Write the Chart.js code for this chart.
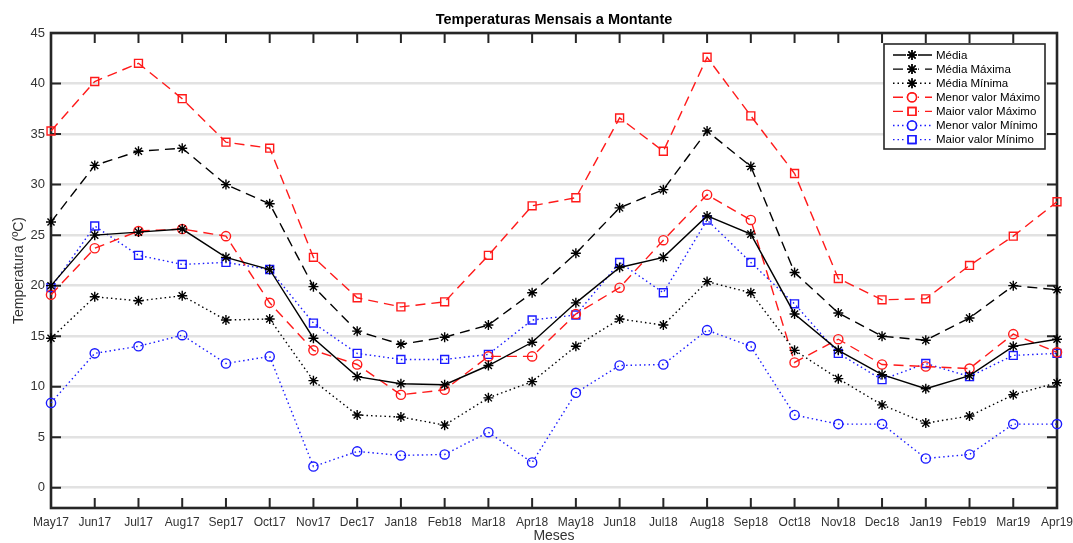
<!DOCTYPE html>
<html>
<head>
<meta charset="utf-8">
<script src="https://cdn.jsdelivr.net/npm/chart.js@4/dist/chart.umd.min.js"></script>
<style>
  html, body { margin: 0; padding: 0; background: #fff; }
  #wrap { width: 1073px; height: 543px; }
</style>
</head>
<body>
<div id="wrap"><canvas id="c" width="1073" height="543"></canvas></div>
<script>
// Months on the horizontal axis
const months = ['May17','Jun17','Jul17','Aug17','Sep17','Oct17','Nov17','Dec17','Jan18','Feb18','Mar18','Apr18',
                'May18','Jun18','Jul18','Aug18','Sep18','Oct18','Nov18','Dec18','Jan19','Feb19','Mar19','Apr19'];
// Temperature tick values (ºC)
const yTickValues = [0, 5, 10, 15, 20, 25, 30, 35, 40, 45];

// Monthly temperature series (ºC)
const media    = [20.0, 25.0, 25.3, 25.6, 22.8, 21.6, 14.8, 11.0, 10.3, 10.2, 12.1, 14.4, 18.3, 21.8, 22.8, 26.9, 25.1, 17.2, 13.6, 11.2, 9.8, 11.1, 14.0, 14.7];
const mediaMax = [26.3, 31.9, 33.3, 33.6, 30.0, 28.1, 19.9, 15.5, 14.2, 14.9, 16.1, 19.3, 23.2, 27.7, 29.5, 35.3, 31.8, 21.3, 17.3, 15.0, 14.6, 16.8, 20.0, 19.6];
const mediaMin = [14.8, 18.9, 18.5, 19.0, 16.6, 16.7, 10.6, 7.2, 7.0, 6.2, 8.9, 10.5, 14.0, 16.7, 16.1, 20.4, 19.3, 13.6, 10.8, 8.2, 6.4, 7.1, 9.2, 10.4];
const menorMax = [19.1, 23.7, 25.4, 25.6, 24.9, 18.3, 13.6, 12.2, 9.2, 9.7, 13.0, 13.0, 17.2, 19.8, 24.5, 29.0, 26.5, 12.4, 14.7, 12.2, 12.0, 11.8, 15.2, 13.4];
const maiorMax = [35.3, 40.2, 42.0, 38.5, 34.2, 33.6, 22.8, 18.8, 17.9, 18.4, 23.0, 27.9, 28.7, 36.6, 33.3, 42.6, 36.8, 31.1, 20.7, 18.6, 18.7, 22.0, 24.9, 28.3];
const menorMin = [8.4, 13.3, 14.0, 15.1, 12.3, 13.0, 2.1, 3.6, 3.2, 3.3, 5.5, 2.5, 9.4, 12.1, 12.2, 15.6, 14.0, 7.2, 6.3, 6.3, 2.9, 3.3, 6.3, 6.3];
const maiorMin = [19.8, 25.9, 23.0, 22.1, 22.3, 21.6, 16.3, 13.3, 12.7, 12.7, 13.2, 16.6, 17.1, 22.3, 19.3, 26.5, 22.3, 18.2, 13.3, 10.7, 12.3, 11.0, 13.1, 13.3];

const FONT = '"Liberation Sans", Arial, Helvetica, sans-serif';
const RED = '#ff1a1a';
const BLUE = '#1a1aff';
const DASH = [10, 6];
const DOT = [1.5, 3];

function series(label, data, color, dash, pointStyle, radius) {
  return {
    label, data,
    borderColor: color,
    backgroundColor: 'rgba(0,0,0,0)',
    pointBackgroundColor: 'rgba(0,0,0,0)',
    pointBorderColor: color,
    borderWidth: 1.4,
    borderDash: dash,
    pointStyle,
    pointRadius: radius,
    pointBorderWidth: 1.4,
    tension: 0,
    clip: false
  };
}

const datasets = [
  series('Média', media, '#000', [], 'star', 5),
  series('Média Máxima', mediaMax, '#000', DASH, 'star', 5),
  series('Média Mínima', mediaMin, '#000', DOT, 'star', 5),
  series('Menor valor Máximo', menorMax, RED, DASH, 'circle', 4.6),
  series('Maior valor Máximo', maiorMax, RED, DASH, 'rect', 5.6),
  series('Menor valor Mínimo', menorMin, BLUE, DOT, 'circle', 4.6),
  series('Maior valor Mínimo', maiorMin, BLUE, DOT, 'rect', 5.6)
];

// Axes box with inward tick marks on all four sides
const axesFrame = {
  id: 'axesFrame',
  beforeDatasetsDraw(chart) {
    const { ctx, chartArea: a, scales: { x, y } } = chart;
    ctx.save();
    ctx.strokeStyle = '#262626';
    ctx.lineWidth = 2;
    ctx.beginPath();
    months.forEach((m, i) => {
      const px = x.getPixelForValue(i);
      ctx.moveTo(px, a.bottom); ctx.lineTo(px, a.bottom - 10);
      ctx.moveTo(px, a.top); ctx.lineTo(px, a.top + 10);
    });
    yTickValues.forEach(v => {
      const py = y.getPixelForValue(v);
      ctx.moveTo(a.left, py); ctx.lineTo(a.left + 10, py);
      ctx.moveTo(a.right, py); ctx.lineTo(a.right - 10, py);
    });
    ctx.stroke();
    ctx.lineWidth = 2.6;
    ctx.strokeRect(a.left, a.top, a.right - a.left, a.bottom - a.top);
    ctx.restore();
  }
};

// Boxed legend in the upper right corner of the plot
const boxLegend = {
  id: 'boxLegend',
  afterDatasetsDraw(chart) {
    const { ctx, chartArea: a } = chart;
    const bx = a.right - 173, by = a.top + 11, bw = 161, bh = 105;
    ctx.save();
    ctx.fillStyle = '#fff';
    ctx.fillRect(bx, by, bw, bh);
    ctx.strokeStyle = '#262626';
    ctx.lineWidth = 1.6;
    ctx.strokeRect(bx, by, bw, bh);
    ctx.font = '11.5px ' + FONT;
    ctx.textBaseline = 'middle';
    ctx.textAlign = 'left';
    chart.data.datasets.forEach((ds, i) => {
      const yy = by + 11 + i * 14.1;
      ctx.save();
      ctx.strokeStyle = ds.borderColor;
      ctx.lineWidth = ds.borderWidth;
      ctx.setLineDash(ds.borderDash);
      ctx.beginPath();
      ctx.moveTo(bx + 9, yy); ctx.lineTo(bx + 48, yy);
      ctx.stroke();
      ctx.setLineDash([]);
      ctx.fillStyle = '#fff';
      ctx.fillRect(bx + 22, yy - 5, 12, 10);
      ctx.strokeStyle = ds.pointBorderColor;
      ctx.lineWidth = ds.pointBorderWidth;
      Chart.helpers.drawPoint(ctx, { pointStyle: ds.pointStyle, radius: ds.pointRadius, borderWidth: ds.pointBorderWidth, rotation: 0 }, bx + 28, yy);
      ctx.stroke();
      ctx.restore();
      ctx.fillStyle = '#000';
      ctx.fillText(ds.label, bx + 52, yy + 0.5);
    });
    ctx.restore();
  }
};

new Chart(document.getElementById('c'), {
  type: 'line',
  data: { labels: months, datasets },
  options: {
    responsive: false,
    animation: false,
    devicePixelRatio: 1,
    layout: { padding: { left: 0, right: 16, top: 0, bottom: 0 } },
    plugins: {
      legend: { display: false },
      tooltip: { enabled: false },
      title: {
        display: true,
        fullSize: false,
        text: 'Temperaturas Mensais a Montante',
        color: '#000',
        font: { family: FONT, size: 14.5, weight: 'bold' },
        padding: { top: 11.5, bottom: 4.1 }
      }
    },
    scales: {
      x: {
        type: 'category',
        offset: false,
        grid: { display: false, drawTicks: false },
        border: { display: false },
        ticks: {
          autoSkip: false, maxRotation: 0, minRotation: 0, padding: 7,
          color: '#333', font: { family: FONT, size: 12 }
        },
        title: {
          display: true, text: 'Meses', color: '#333',
          font: { family: FONT, size: 14, lineHeight: 1 },
          padding: { top: 0, bottom: 0 }
        },
        afterFit(scale) {
          scale.height = 35;
          scale.paddingLeft = 0;
          scale.paddingRight = 0;
        }
      },
      y: {
        min: -2, max: 45,
        grid: { color: '#e2e2e2', lineWidth: 2.6, drawTicks: false },
        border: { display: false },
        ticks: {
          stepSize: 5, padding: 6,
          color: '#333', font: { family: FONT, size: 13 }
        },
        afterBuildTicks(scale) {
          scale.ticks = yTickValues.map(v => ({ value: v }));
        },
        title: {
          display: true, text: 'Temperatura (ºC)', color: '#333',
          font: { family: FONT, size: 14, lineHeight: 1.2 },
          padding: { top: 10.5, bottom: 0 }
        },
        afterFit(scale) {
          scale.width = 51;
          scale.paddingTop = 0;
          scale.paddingBottom = 0;
        }
      }
    }
  },
  plugins: [axesFrame, boxLegend]
});
</script>
</body>
</html>
